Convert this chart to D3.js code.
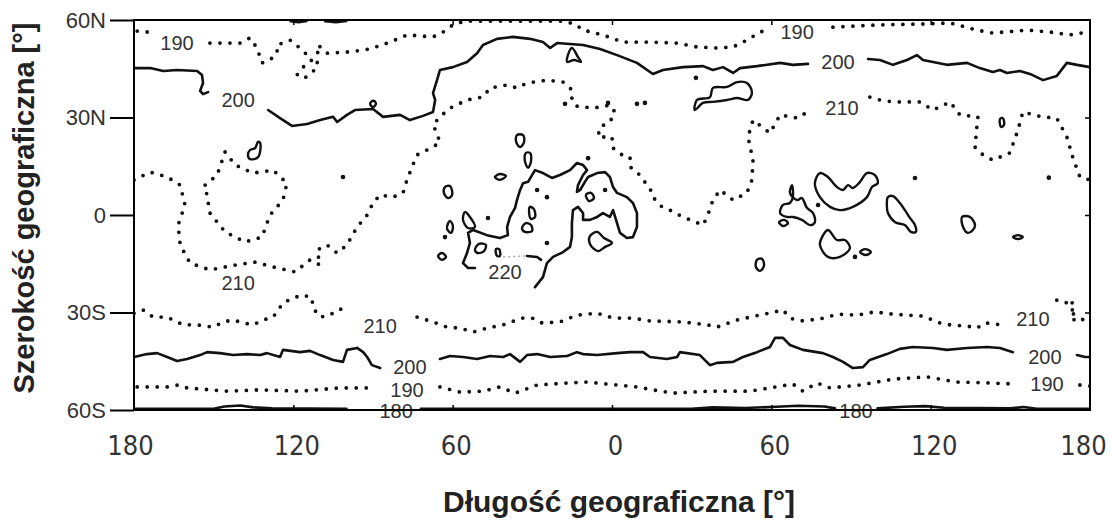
<!DOCTYPE html>
<html>
<head>
<meta charset="utf-8">
<script src="https://cdn.jsdelivr.net/npm/d3@7"></script>
<style>
  html, body { margin: 0; padding: 0; background: #fff; }
  svg { display: block; }
  .tick text { fill: #333; }
</style>
</head>
<body>
<svg id="chart" width="1110" height="523"></svg>
<script>
// ---- axis ticks ----
const lonTicks = [-180, -120, -60, 0, 60, 120, 180];
const latTicks = [60, 30, 0, -30, -60];

// ---- isotherm lines, [longitude, latitude]; each array holds the pieces of one line ----
const iso190North = [
  [[-178.8, 56.6], [-175.0, 56.3]],
  [[-151.4, 52.9], [-145.8, 52.9], [-140.1, 52.9], [-136.3, 54.5], [-133.7, 51.4], [-131.8, 46.8],
   [-128.8, 47.7], [-126.1, 49.8], [-126.1, 52.3], [-121.2, 53.8], [-116.7, 50.8], [-113.0, 47.7],
   [-116.3, 45.5], [-118.6, 43.1], [-115.6, 42.2], [-111.1, 45.2], [-110.7, 52.3], [-107.3, 49.8],
   [-98.6, 50.2], [-91.1, 51.1], [-83.6, 53.2], [-77.2, 55.4], [-67.4, 54.8], [-63.6, 56.3],
   [-59.9, 58.5], [-55.3, 59.7], [-42.2, 59.7], [-19.6, 59.7], [-13.9, 58.8], [-10.9, 56.9],
   [-3.4, 55.4], [4.1, 53.2], [14.3, 53.2], [24.5, 52.9], [32.0, 51.7], [39.5, 51.4], [45.6, 51.7],
   [50.8, 53.8], [55.7, 56.3], [58.4, 56.9]],
  [[83.2, 57.8], [100.9, 58.5], [118.6, 58.8], [127.3, 59.1], [137.4, 56.9], [143.4, 56.0],
   [156.2, 56.9], [164.9, 56.3], [172.4, 55.4], [179.2, 56.3]]
];

const iso200North = [
  [[-179.6, 45.2], [-173.9, 45.2], [-169.0, 44.3], [-163.8, 44.6], [-156.2, 44.3], [-154.4, 43.1],
   [-154.0, 40.6], [-155.1, 38.2], [-154.0, 37.2], [-152.1, 37.8]],
  [[-129.5, 32.3], [-125.0, 29.8], [-120.5, 27.4], [-114.8, 28.0], [-109.9, 29.2], [-105.0, 30.2],
   [-103.5, 28.6], [-99.8, 30.8], [-96.8, 32.3], [-90.0, 32.6], [-86.2, 30.2], [-79.8, 30.8],
   [-76.1, 29.2], [-71.2, 30.5], [-67.4, 31.7], [-66.6, 35.4], [-67.4, 37.5], [-65.9, 41.5],
   [-64.8, 44.6], [-59.9, 45.5], [-54.6, 47.1], [-50.8, 49.8], [-48.6, 52.3], [-43.3, 54.2],
   [-37.3, 54.8], [-30.9, 54.2], [-26.0, 53.2], [-23.3, 51.4], [-20.7, 52.9], [-10.9, 52.3],
   [-4.5, 51.1], [1.9, 49.2], [9.4, 46.8], [15.4, 43.4], [19.2, 44.6], [26.7, 45.5], [34.3, 45.8],
   [38.0, 44.6], [41.8, 45.5], [45.6, 43.7], [48.2, 45.2], [54.6, 45.8], [63.3, 46.8], [68.1, 46.2],
   [73.8, 46.5]],
  [[96.4, 48.0], [100.9, 47.7], [105.8, 46.2], [111.1, 47.7], [114.8, 49.2], [117.1, 47.7],
   [120.9, 47.1], [126.1, 46.2], [133.7, 46.8], [138.5, 45.2], [143.4, 44.0], [146.1, 44.6],
   [148.7, 43.7], [153.6, 44.3], [157.4, 43.4], [162.3, 41.5], [167.5, 42.8], [171.3, 46.8],
   [175.1, 46.2], [180.0, 45.5]]
];

const iso210North = [
  [[-180.0, 10.8], [-173.9, 13.2], [-167.5, 11.7], [-162.6, 9.2], [-160.8, 3.1], [-163.4, -3.1],
   [-162.6, -9.2], [-158.9, -14.8], [-151.4, -16.9], [-141.9, -15.4], [-134.4, -14.5],
   [-126.1, -16.3], [-119.3, -17.5], [-113.7, -13.8], [-109.9, -15.4], [-111.1, -10.8],
   [-107.3, -9.2], [-103.5, -11.7], [-99.8, -9.2], [-96.0, -3.7], [-92.2, 0.0], [-90.0, 3.7],
   [-87.3, 6.2], [-82.5, 5.5], [-78.7, 6.8], [-77.2, 10.8], [-75.3, 14.8], [-73.4, 18.5],
   [-69.7, 20.0], [-64.8, 22.2], [-65.9, 25.2], [-67.4, 27.7], [-64.8, 30.2], [-61.0, 32.9],
   [-54.6, 35.4], [-48.6, 36.3], [-45.9, 39.1], [-39.5, 40.0], [-35.8, 39.1], [-32.0, 40.6],
   [-24.5, 41.5], [-18.4, 40.9], [-15.1, 38.5], [-15.1, 35.4], [-13.2, 33.5], [-7.2, 32.9],
   [-0.8, 33.8], [1.1, 31.7], [-0.8, 28.6], [-4.5, 27.1], [-5.3, 24.0], [0.0, 24.0], [0.4, 20.6],
   [3.8, 18.5], [6.8, 17.8], [6.8, 14.8], [9.8, 12.9], [11.7, 10.8], [14.3, 8.3], [15.4, 5.5],
   [18.8, 2.5], [21.8, 1.5], [26.7, -0.6], [34.3, -3.1], [36.1, 0.0], [38.0, 4.6], [40.7, 7.7],
   [45.6, 4.6], [50.8, 6.8], [52.7, 10.8], [53.1, 16.9], [51.2, 24.0], [53.1, 29.2], [59.5, 25.2],
   [63.3, 30.8], [70.0, 29.8], [74.5, 32.3]],
  [[97.1, 36.3], [100.9, 35.4], [105.8, 34.8], [116.0, 34.8], [120.9, 32.3], [127.3, 34.8],
   [131.0, 30.8], [137.8, 30.2], [137.4, 27.1], [136.7, 20.9], [139.7, 18.5], [143.4, 16.9],
   [149.8, 19.1], [152.9, 26.2], [154.7, 31.7], [161.9, 30.2], [167.5, 29.8], [171.3, 24.0],
   [173.6, 17.5], [176.2, 11.7], [180.0, 10.8]],
  [[-153.2, 9.2], [-148.7, 12.3], [-145.7, 19.4], [-141.9, 15.4], [-135.2, 12.9], [-127.6, 13.8],
   [-122.4, 9.8], [-123.9, 4.6], [-128.8, 0.0], [-131.8, -6.8], [-138.2, -8.3], [-145.7, -5.2],
   [-151.4, 0.6], [-153.2, 9.2]]
];

const iso220 = [
  [[-51.6, -16.3], [-54.2, -16.3], [-56.1, -14.8], [-54.6, -11.7], [-53.5, -8.6], [-54.2, -5.5],
   [-52.3, -4.6], [-47.1, -6.2], [-42.2, -7.1], [-39.2, -6.2], [-39.5, -3.7], [-38.4, -0.6],
   [-36.5, 2.2], [-35.8, 4.6], [-34.6, 7.7], [-33.5, 9.8], [-31.6, 10.2], [-29.0, 13.8],
   [-26.0, 12.9], [-22.6, 11.4], [-19.6, 12.3], [-15.8, 13.8], [-13.2, 16.0], [-10.9, 15.4],
   [-9.4, 13.8], [-10.9, 12.3], [-12.8, 9.2], [-13.2, 7.1], [-12.0, 7.7], [-10.2, 10.2],
   [-9.0, 11.7], [-5.6, 12.9], [-2.6, 13.2], [-0.8, 11.7], [0.4, 8.6], [1.9, 6.8], [5.6, 5.5],
   [7.9, 3.7], [9.4, 0.6], [9.4, -3.7], [7.9, -6.8], [5.6, -7.1], [3.0, -5.5], [1.9, -2.5],
   [0.4, 1.5], [-0.8, -0.6], [-3.4, 0.6], [-5.6, -0.6], [-8.3, -1.5], [-10.9, -1.5], [-10.9, 0.6],
   [-12.8, 2.5], [-14.7, 1.5], [-15.1, -2.5], [-15.1, -6.8], [-15.8, -9.8], [-18.4, -11.4],
   [-22.2, -12.9], [-24.5, -14.8], [-26.0, -19.1], [-29.0, -22.2]],
  [[-32.0, -12.6], [-28.2, -12.9], [-26.7, -13.8]]
];

const iso210South = [
  [[-180.0, -30.2], [-176.6, -29.2], [-172.8, -31.4], [-167.5, -31.4], [-161.5, -33.8],
   [-156.2, -33.8], [-150.2, -34.5], [-146.5, -32.9], [-142.7, -32.3], [-138.9, -33.2],
   [-135.2, -33.8], [-131.4, -32.3], [-127.6, -31.4], [-123.9, -27.1], [-120.1, -25.5],
   [-116.3, -24.6], [-113.0, -25.5], [-112.6, -28.6], [-109.9, -31.4], [-106.2, -30.8],
   [-103.5, -29.2], [-99.8, -28.6]],
  [[-73.4, -31.4], [-67.4, -32.9], [-62.1, -34.5], [-57.2, -34.8], [-52.3, -36.0], [-47.1, -34.8],
   [-41.0, -33.8], [-33.9, -31.7], [-30.1, -31.7], [-26.4, -33.2], [-19.6, -32.9], [-13.2, -30.8],
   [-5.6, -30.2], [0.4, -31.7], [7.5, -31.7], [14.3, -32.6], [26.7, -32.9], [36.1, -33.8],
   [39.5, -34.5], [47.1, -32.3], [53.8, -31.1], [61.4, -29.8], [64.4, -29.2], [67.0, -31.7],
   [70.8, -32.6], [78.3, -32.0], [85.1, -30.5], [92.2, -30.8], [99.0, -29.8], [105.8, -30.5],
   [117.1, -31.1], [123.5, -33.2], [127.3, -33.8], [134.0, -34.2], [137.4, -34.8], [140.4, -33.2],
   [147.2, -33.8]],
  [[167.5, -26.2], [170.6, -27.1], [173.6, -26.2], [172.4, -29.2], [175.1, -29.2], [172.4, -31.7],
   [176.2, -32.9], [180.0, -30.2]]
];

const iso200South = [
  [[-180.0, -43.7], [-175.1, -42.8], [-171.3, -42.5], [-167.5, -43.7], [-163.8, -44.9],
   [-160.0, -44.3], [-155.1, -43.1], [-152.5, -42.2], [-147.6, -42.5], [-142.7, -43.1],
   [-137.4, -42.8], [-132.5, -43.1], [-129.9, -42.5], [-125.0, -43.7], [-123.9, -41.5],
   [-117.5, -42.2], [-113.7, -41.8], [-109.9, -43.1], [-105.0, -44.6], [-101.3, -45.2],
   [-99.8, -41.5], [-96.0, -40.9], [-93.7, -42.2], [-92.2, -43.7], [-90.4, -46.2], [-87.3, -47.1]],
  [[-64.8, -44.3], [-61.0, -43.4], [-56.1, -43.7], [-50.8, -44.3], [-45.9, -43.4], [-41.0, -43.7],
   [-38.4, -42.8], [-34.6, -45.2], [-32.0, -43.1], [-28.2, -42.8], [-23.3, -43.7], [-16.9, -43.4],
   [-13.2, -42.2], [-10.9, -42.8], [-5.6, -43.1], [1.9, -42.5], [6.8, -42.2], [11.7, -42.2],
   [14.3, -43.7], [20.7, -44.3], [24.5, -43.7], [25.6, -42.2], [33.1, -43.1], [36.9, -46.2],
   [39.5, -45.5], [45.6, -45.2], [49.3, -43.7], [54.6, -42.2], [59.5, -40.6], [61.4, -37.8],
   [64.4, -37.8], [67.0, -40.0], [71.9, -41.5], [79.4, -42.5], [83.2, -43.7], [87.0, -45.2],
   [90.7, -47.1], [94.5, -46.8], [97.1, -44.6], [103.5, -42.8], [108.4, -41.2], [113.3, -40.6],
   [120.9, -40.9], [126.1, -41.5], [133.7, -40.9], [141.2, -40.6], [146.1, -40.9], [151.0, -42.2]],
  [[175.1, -43.1], [178.1, -43.7], [180.0, -43.7]]
];

const iso190South = [
  [[-178.8, -52.9], [-167.5, -52.9], [-163.4, -52.3], [-160.0, -53.2], [-145.0, -54.2],
   [-132.5, -53.8], [-117.5, -54.2], [-102.4, -53.2], [-91.1, -53.2]],
  [[-64.8, -52.9], [-57.2, -54.5], [-48.6, -54.2], [-42.2, -52.9], [-36.5, -54.8], [-28.2, -52.3],
   [-16.9, -51.7], [-9.4, -51.4], [-1.9, -52.0], [9.4, -52.9], [15.4, -53.8], [23.0, -54.8],
   [36.9, -54.2], [52.0, -54.2], [59.5, -53.2], [68.1, -52.0], [71.9, -54.2], [77.2, -51.7],
   [82.1, -53.2], [93.4, -52.3], [105.8, -50.5], [118.6, -49.8], [129.9, -51.4], [143.4, -51.7],
   [151.0, -52.0]],
  [[176.2, -52.3], [180.0, -52.6]]
];

const iso180 = [
  [[-180.0, -59.6], [-150.0, -59.6], [-146.0, -58.9], [-140.0, -58.6], [-135.0, -59.2],
   [-128.0, -59.5], [-100.0, -59.6]],
  [[-72.0, -59.6], [30.0, -59.6], [38.0, -59.2], [50.0, -59.4], [62.0, -59.0], [70.0, -58.7],
   [80.0, -58.9], [84.0, -59.5]],
  [[100.0, -59.5], [110.0, -59.0], [118.0, -58.8], [125.0, -59.3], [150.0, -59.5], [155.0, -59.1],
   [160.0, -59.6], [180.0, -59.6]],
  [[-121.0, 59.6], [-118.0, 59.3], [-115.0, 59.7]],
  [[-108.0, 59.6], [-104.0, 59.3], [-100.0, 59.7]]
];

// closed loops
const rings200 = [
  [[-15.1, 51.4], [-12.8, 48.6], [-11.7, 47.1], [-14.3, 47.7], [-16.9, 47.1], [-16.6, 49.2]],
  [[31.2, 32.3], [32.0, 35.4], [36.9, 36.3], [38.0, 39.1], [43.3, 39.4], [47.1, 40.9], [50.8, 40.6],
   [52.7, 37.8], [51.2, 35.4], [47.1, 36.0], [43.3, 35.4], [38.0, 34.8], [34.3, 34.5]],
  [[-90.7, 34.8], [-89.6, 35.1], [-88.9, 34.2], [-90.0, 33.2], [-91.1, 34.2]]
];

const rings220 = [
  [[-35.8, 24.6], [-33.5, 24.6], [-33.1, 22.5], [-34.6, 20.9], [-36.1, 22.5]],
  [[-32.4, 19.1], [-30.9, 19.1], [-30.5, 16.6], [-31.6, 14.5], [-32.8, 16.6]],
  [[-44.1, 11.7], [-42.2, 12.6], [-39.9, 12.0], [-42.2, 10.8]],
  [[-62.9, 8.6], [-61.0, 8.9], [-60.2, 6.2], [-61.7, 5.2], [-63.3, 6.8]],
  [[-61.0, -1.8], [-59.9, -3.4], [-60.6, -5.5], [-62.1, -4.3], [-61.7, -2.5]],
  [[-65.5, -12.6], [-64.0, -11.7], [-62.5, -12.9], [-64.0, -13.8]],
  [[-51.6, -10.8], [-50.1, -8.9], [-47.5, -9.2], [-48.2, -11.1], [-50.5, -11.7]],
  [[-43.7, -10.5], [-42.5, -10.5], [-42.2, -12.6], [-43.3, -12.6]],
  [[-33.9, -4.0], [-32.4, -2.5], [-30.5, -3.1], [-30.1, -4.9], [-32.8, -5.2]],
  [[-30.9, 2.5], [-29.4, 1.8], [-29.0, -0.6], [-30.5, -1.2], [-31.2, 0.6]],
  [[-9.8, 6.2], [-7.9, 6.8], [-6.8, 5.2], [-8.7, 4.3]],
  [[-8.3, -6.5], [-5.6, -5.2], [-3.0, -7.1], [0.0, -8.6], [-2.6, -9.8], [-5.3, -11.1], [-8.3, -8.9]],
  [[-55.4, 0.9], [-56.1, -1.5], [-54.2, -4.0], [-51.6, -3.7], [-53.5, -0.6]],
  [[78.3, 12.9], [76.4, 9.8], [78.3, 5.5], [82.1, 2.5], [85.8, 1.5], [90.7, 2.5], [96.0, 5.5],
   [97.9, 8.6], [100.1, 9.8], [99.0, 12.3], [96.0, 12.9], [93.4, 10.2], [90.7, 8.3], [88.9, 9.2],
   [87.0, 7.7], [84.7, 8.6], [81.3, 11.7]],
  [[67.8, 9.2], [67.0, 6.8], [69.7, 4.6], [71.5, 5.2], [73.4, 2.2], [75.7, 0.6], [76.4, -2.2],
   [74.5, -3.1], [71.5, -1.5], [68.1, -0.6], [65.9, -0.6], [63.3, 0.6], [64.4, 3.1], [67.0, 3.7],
   [68.1, 5.5]],
  [[62.9, -2.2], [64.8, -1.5], [66.3, -2.5], [64.4, -3.4]],
  [[54.6, -13.8], [56.5, -13.5], [57.2, -15.7], [55.7, -17.2], [54.2, -16.0]],
  [[81.3, -4.6], [79.1, -6.8], [78.3, -9.2], [81.3, -12.9], [85.8, -12.9], [89.6, -10.2],
   [87.7, -7.7], [84.7, -7.7]],
  [[93.4, -11.4], [95.3, -10.5], [97.5, -11.4], [95.6, -12.3]],
  [[103.9, 5.5], [105.8, 5.8], [108.4, 3.7], [110.3, 1.5], [112.2, -0.9], [114.1, -3.1],
   [114.4, -5.2], [112.6, -5.2], [110.3, -3.1], [106.6, -2.2], [103.9, 0.6], [103.5, 3.1]],
  [[131.8, -0.6], [132.2, -3.7], [134.0, -5.5], [135.9, -4.6], [136.7, -3.1], [134.8, -0.6]],
  [[151.0, -6.8], [152.9, -6.2], [154.7, -6.8], [152.9, -7.4]],
  [[-136.3, 20.0], [-134.4, 20.6], [-133.3, 22.5], [-132.5, 22.2], [-133.3, 17.8], [-136.3, 17.2],
   [-137.1, 18.5]],
  [[146.1, 29.5], [147.2, 29.8], [147.6, 27.7], [146.5, 27.1]]
];

// isolated spots
const spots = [
  [-101.3, 11.7], [12.4, 34.5], [-1.5, 34.5], [-17.7, 34.2], [114.1, 11.4], [-28.2, 7.7],
  [-24.5, 5.5], [-46.7, -0.9], [-62.9, -6.8], [-24.5, -8.6], [-9.0, 17.5], [-2.6, 7.7],
  [77.6, 3.1], [91.5, -12.9], [164.5, 11.5], [31.6, 42.2], [9.4, 34.2]
];

// line labels: text, longitude, latitude
const labelText = ["190", "200", "190", "200", "210", "210", "220", "210", "210", "200", "200", "190", "190", "180", "180"];
const labelLon  = [-163.8, -140.8, 69.7, 85.1, 86.6, -140.8, -40.3, -87.3, 158.5, -76.1, 163.0, -77.2, 163.8, -81.3, 91.9];
const labelLat  = [52.9, 35.4, 56.3, 47.1, 32.9, -20.9, -17.5, -34.2, -32.0, -46.8, -43.7, -53.8, -52.0, -60.4, -60.4];

const lines = [
  { level: 180, pieces: iso180 },
  { level: 190, pieces: iso190North },
  { level: 190, pieces: iso190South },
  { level: 200, pieces: iso200North },
  { level: 200, pieces: iso200South },
  { level: 210, pieces: iso210North },
  { level: 210, pieces: iso210South },
  { level: 220, pieces: iso220 }
];

// ---- layout ----
const frame = { left: 134, right: 1090, top: 20, bottom: 410 };
const svg = d3.select("#chart");
const x = d3.scaleLinear().domain([-180, 180]).range([frame.left, frame.right]);
const y = d3.scaleLinear().domain([-60, 60]).range([frame.bottom, frame.top]);

svg.append("defs").append("clipPath").attr("id", "plotClip")
  .append("rect").attr("x", frame.left).attr("y", frame.top)
  .attr("width", frame.right - frame.left).attr("height", frame.bottom - frame.top);

const plot = svg.append("g").attr("clip-path", "url(#plotClip)");
const lineGen = d3.line().x(d => x(d[0])).y(d => y(d[1]));
const ringGen = d3.line().x(d => x(d[0])).y(d => y(d[1])).curve(d3.curveCatmullRomClosed.alpha(0.5));
const dotted = lvl => lvl === 190 || lvl === 210;

lines.forEach(l => {
  plot.selectAll(null).data(l.pieces).enter().append("path")
    .attr("d", lineGen)
    .attr("fill", "none")
    .attr("stroke", "#111")
    .attr("stroke-linecap", "round")
    .attr("stroke-linejoin", "round")
    .attr("stroke-width", dotted(l.level) ? 3.8 : 2.6)
    .attr("stroke-dasharray", dotted(l.level) ? "0 10" : null);
});

// faint dotted run next to the 220 label
plot.append("path")
  .attr("d", lineGen([[-41.0, -12.9], [-32.0, -12.6]]))
  .attr("fill", "none").attr("stroke", "#aaa").attr("stroke-width", 1.5)
  .attr("stroke-dasharray", "2 3");

plot.selectAll(null).data(rings200.concat(rings220)).enter().append("path")
  .attr("d", ringGen)
  .attr("fill", "none").attr("stroke", "#111").attr("stroke-width", 2.4);

plot.selectAll(null).data(spots).enter().append("circle")
  .attr("cx", d => x(d[0])).attr("cy", d => y(d[1])).attr("r", 2.3).attr("fill", "#111");

// line labels
svg.append("g").selectAll("text").data(labelText).enter().append("text")
  .attr("x", (d, i) => x(labelLon[i]))
  .attr("y", (d, i) => y(labelLat[i]))
  .attr("text-anchor", "middle")
  .attr("dominant-baseline", "central")
  .attr("font-family", "'Liberation Sans', Arial, sans-serif")
  .attr("font-size", 20)
  .attr("fill", "#333")
  .text(d => d);

// ---- frame and axes ----
svg.append("rect").attr("x", frame.left).attr("y", frame.top)
  .attr("width", frame.right - frame.left).attr("height", frame.bottom - frame.top)
  .attr("fill", "none").attr("stroke", "#000").attr("stroke-width", 2);

const latFmt = d => d === 0 ? "0" : Math.abs(d) + (d > 0 ? "N" : "S");
const yAxis = svg.append("g").attr("transform", `translate(${frame.left},0)`)
  .call(d3.axisLeft(y).tickValues(latTicks).tickSize(24).tickPadding(4).tickFormat(latFmt));
yAxis.select(".domain").remove();
yAxis.selectAll(".tick line").attr("stroke", "#000").attr("stroke-width", 2);
yAxis.selectAll(".tick text").attr("font-family", "'Liberation Sans', Arial, sans-serif").attr("font-size", 22);

const xAxis = svg.append("g").attr("transform", `translate(0,${frame.bottom})`)
  .call(d3.axisBottom(x).tickValues(lonTicks).tickSize(0).tickPadding(26).tickFormat(d => Math.abs(d)));
xAxis.select(".domain").remove();
xAxis.selectAll(".tick text")
  .attr("font-family", "'DejaVu Sans Condensed', 'DejaVu Sans', sans-serif")
  .attr("font-size", 27)
  .attr("dx", d => d === -180 ? -4 : d === 180 ? -7 : 3);

// inner tick marks
const innerLon = lonTicks.slice(1, -1), innerLat = latTicks.slice(1, -1);
[[d3.axisBottom(x).tickValues(innerLon), `translate(0,${frame.bottom})`],
 [d3.axisTop(x).tickValues(innerLon), `translate(0,${frame.top})`],
 [d3.axisRight(y).tickValues(innerLat), `translate(${frame.right},0)`]].forEach(([ax, tr]) => {
  const g = svg.append("g").attr("transform", tr).call(ax.tickSize(-5).tickFormat(""));
  g.select(".domain").remove();
  g.selectAll(".tick line").attr("stroke", "#000").attr("stroke-width", 1.5);
});

// axis titles
svg.append("text")
  .attr("x", 619).attr("y", 512)
  .attr("text-anchor", "middle")
  .attr("font-family", "'Liberation Sans', Arial, sans-serif")
  .attr("font-weight", "bold").attr("font-size", 30).attr("fill", "#222")
  .text("Długość geograficzna [°]");

svg.append("text")
  .attr("transform", "translate(34,208) rotate(-90)")
  .attr("text-anchor", "middle")
  .attr("font-family", "'Liberation Sans', Arial, sans-serif")
  .attr("font-weight", "bold").attr("font-size", 29).attr("fill", "#222")
  .text("Szerokość geograficzna [°]");
</script>
</body>
</html>
